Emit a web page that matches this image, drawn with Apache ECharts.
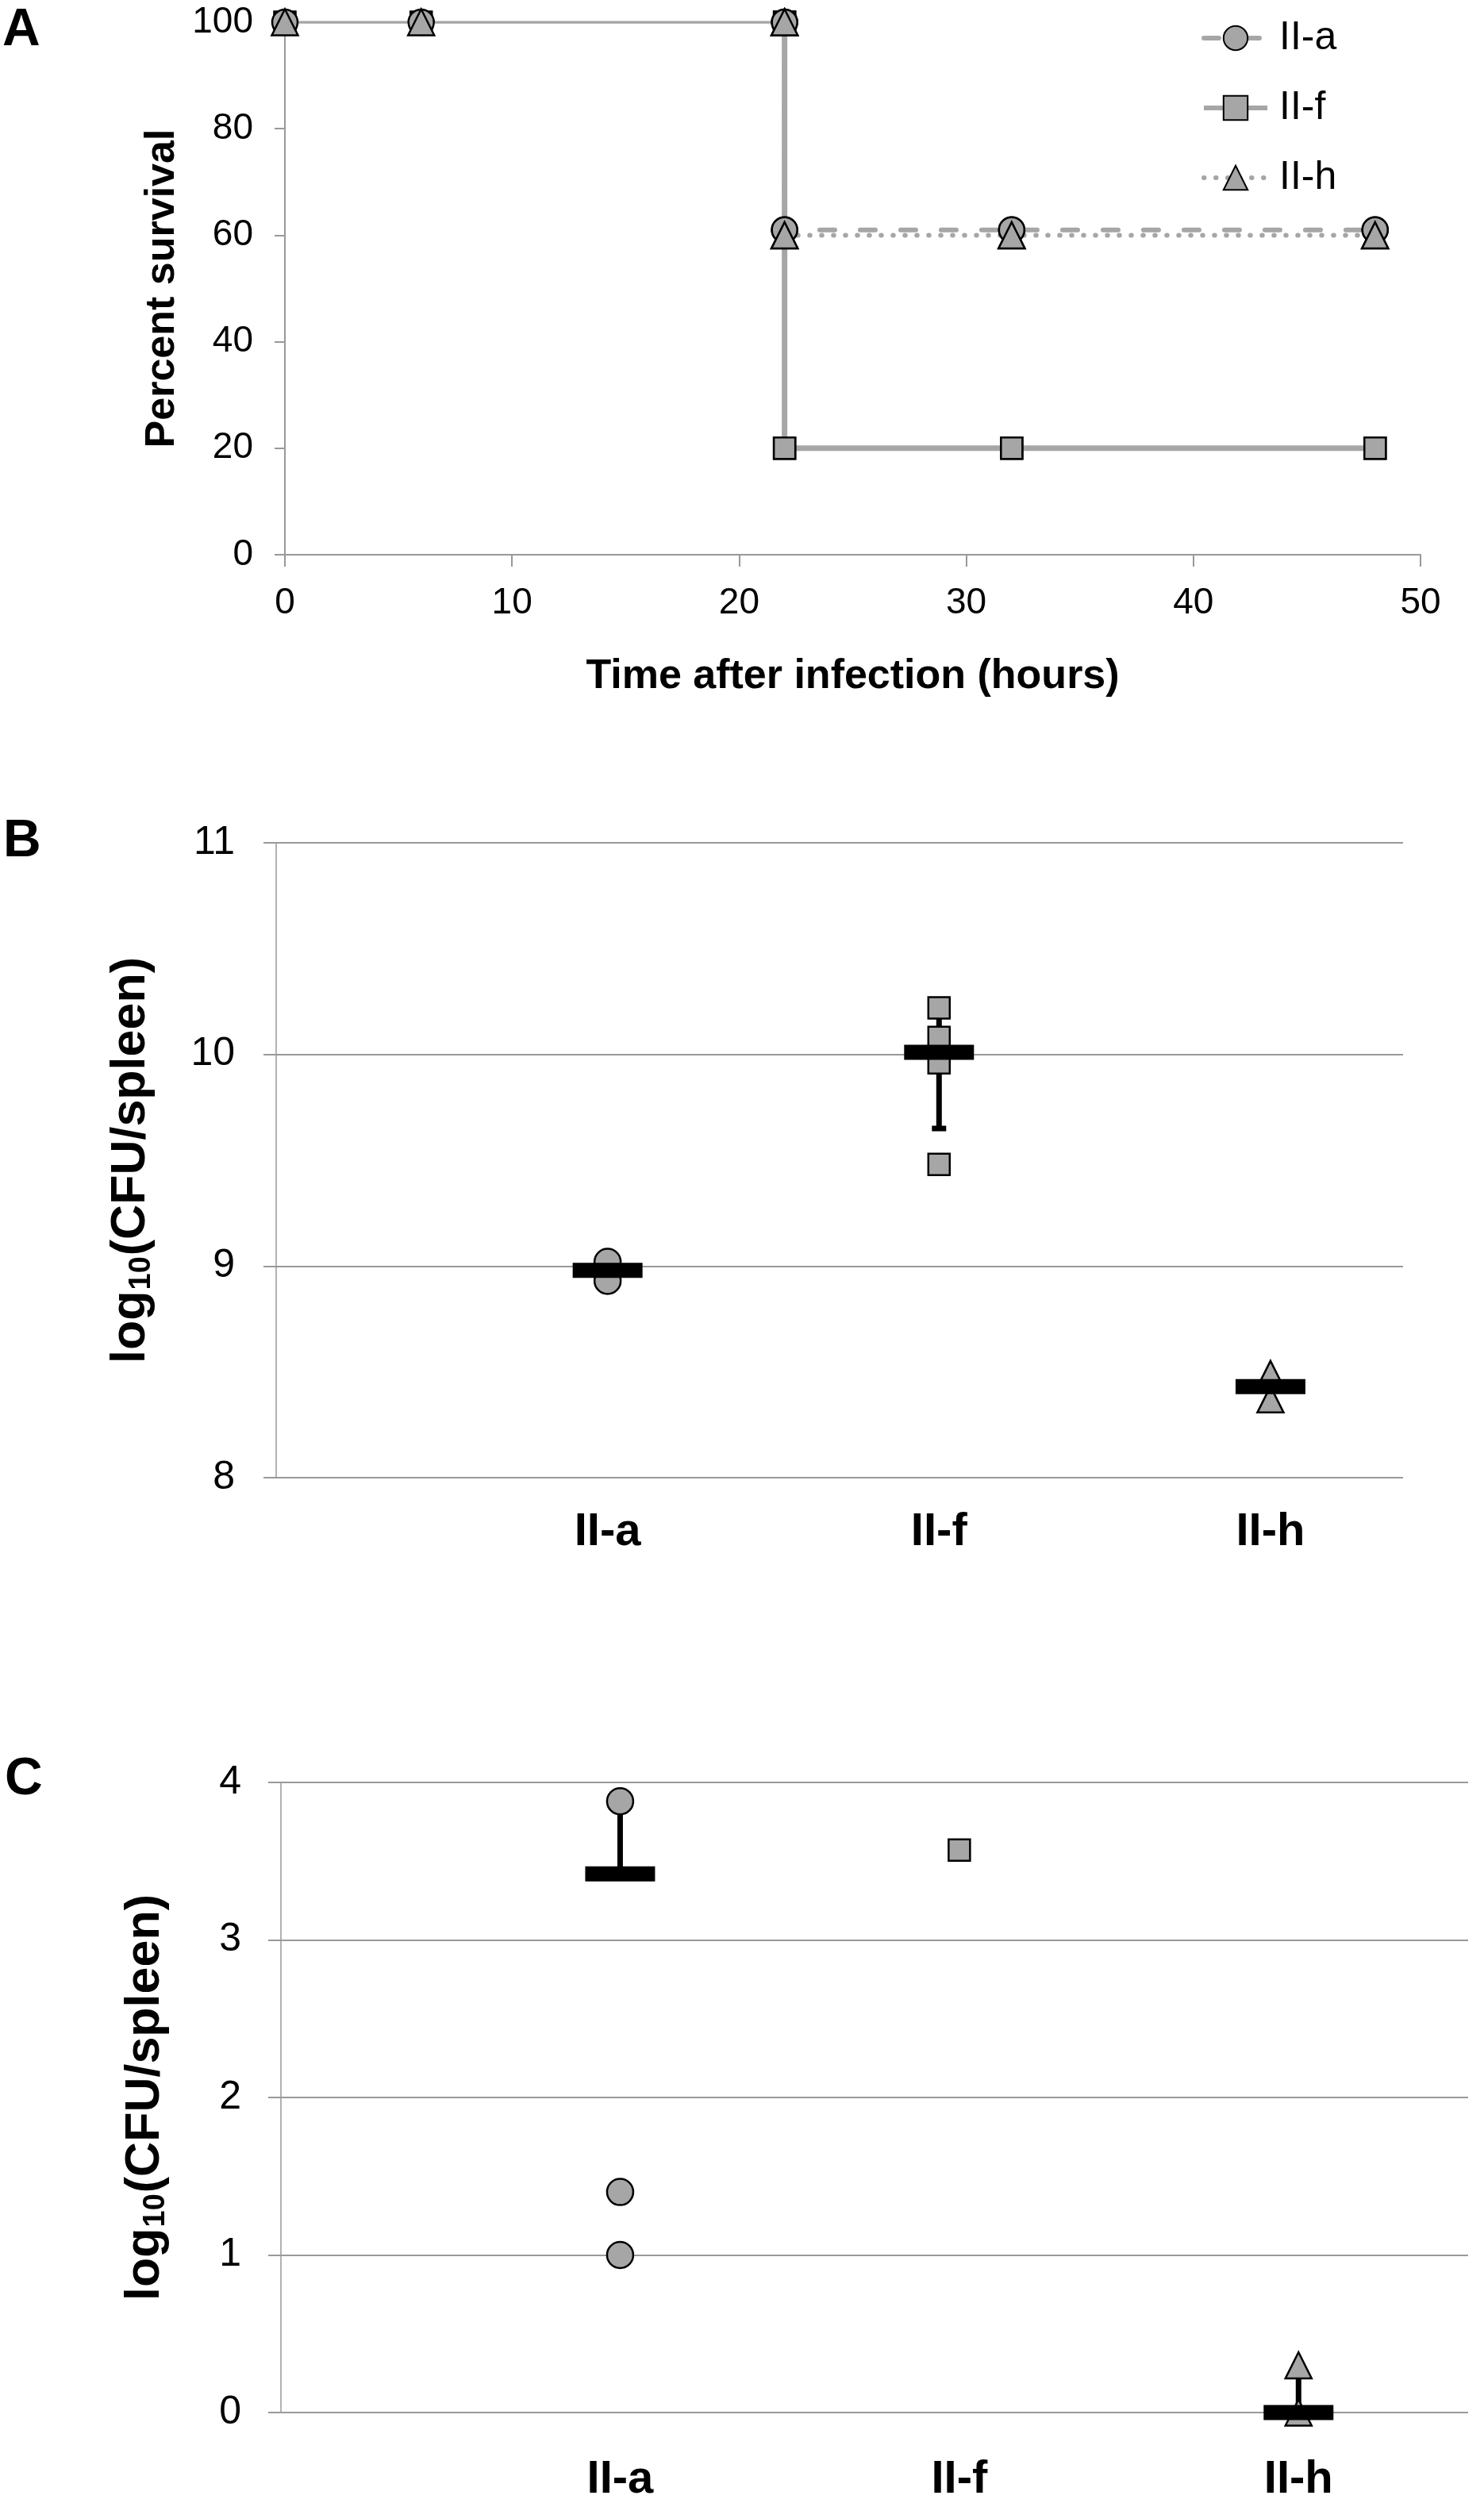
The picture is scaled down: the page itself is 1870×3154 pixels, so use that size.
<!DOCTYPE html>
<html>
<head>
<meta charset="utf-8" />
<title>Survival and spleen CFU</title>
<script src="https://cdn.jsdelivr.net/npm/echarts@6/dist/echarts.min.js"></script>
<style>
  body { margin: 0; background: #fff; }
  #chart { width: 1870px; height: 3154px; }
</style>
</head>
<body>
<div id="chart"></div>
<script>
// panel A : percent survival over time
var hours   = [0, 6, 22, 22, 32, 48];
var survIIa = [100, 100, 100, 61, 61, 61];
var survIIf = [100, 100, 100, 20, 20, 20];
var survIIh = [100, 100, 100, 60, 60, 60];
var xTicksA = [0, 10, 20, 30, 40, 50];

// panels B and C : log10(CFU/spleen), one point per mouse
var strains = ['II-a', 'II-f', 'II-h'];
var cfuB_a = [9.02, 8.93];
var cfuB_f = [10.22, 10.08, 9.96, 9.48];
var cfuB_h = [8.49, 8.37];
var meanB  = [8.98, 10.01, 8.43];
var errLoB = [null, 9.65, null];
var errHiB = [null, 10.2, null];

var cfuC_a = [3.88, 1.40, 1.00];
var cfuC_f = [3.57];
var cfuC_h = [0.30, 0.00];
var meanC  = [3.42, null, 0.00];
var errLoC = [3.42, null, 0.00];
var errHiC = [3.86, null, 0.23];

var FONT = 'Liberation Sans, Arial, sans-serif';
var GRAY = '#a6a6a6';
var AXIS = '#999999';
var markStyle = { color: GRAY, borderColor: '#000', borderWidth: 2.5, opacity: 1 };

function pts(xs, ys) {
  return xs.map(function (x, i) { return [x, ys[i]]; });
}
function strainPts(k, ys) {
  return ys.map(function (y) { return [k + 1, y]; });
}
function meanPts(ms) {
  var out = [];
  ms.forEach(function (m, i) { if (m != null) out.push([i + 1, m]); });
  return out;
}
function errPts(lo, hi) {
  var out = [];
  lo.forEach(function (l, i) { if (l != null) out.push([i + 1, l, hi[i]]); });
  return out;
}

// line of a survival curve from the last 100% point on
function kmLine(name, ys, sym, size, lineStyle) {
  return {
    type: 'line', name: name, xAxisIndex: 0, yAxisIndex: 0,
    data: pts(hours.slice(2), ys.slice(2)),
    symbol: sym, symbolSize: size, showSymbol: true,
    itemStyle: markStyle, lineStyle: lineStyle, z: 2, animation: false
  };
}
function kmMarks(ys, sym, size, z) {
  return {
    type: 'scatter', xAxisIndex: 0, yAxisIndex: 0,
    data: pts(hours, ys), symbol: sym, symbolSize: size,
    itemStyle: markStyle, z: z, animation: false
  };
}
function dots(idx, k, ys, sym, size) {
  return {
    type: 'scatter', xAxisIndex: idx, yAxisIndex: idx,
    data: strainPts(k, ys), symbol: sym, symbolSize: size,
    itemStyle: markStyle, z: 4, animation: false
  };
}
function means(idx, ms) {
  return {
    type: 'scatter', xAxisIndex: idx, yAxisIndex: idx,
    data: meanPts(ms), symbol: 'rect', symbolSize: [88, 19],
    itemStyle: { color: '#000', opacity: 1 }, z: 6, animation: false
  };
}
function errBars(idx, lo, hi) {
  return {
    type: 'custom', xAxisIndex: idx, yAxisIndex: idx,
    data: errPts(lo, hi), z: 3, animation: false,
    renderItem: function (params, api) {
      var a = api.coord([api.value(0), api.value(1)]);
      var b = api.coord([api.value(0), api.value(2)]);
      return {
        type: 'group',
        children: [
          { type: 'line', shape: { x1: a[0], y1: a[1], x2: b[0], y2: b[1] },
            style: { stroke: '#000', lineWidth: 7 } },
          { type: 'rect', shape: { x: a[0] - 9, y: a[1] - 3.5, width: 18, height: 7 },
            style: { fill: '#000' } }
        ]
      };
    }
  };
}

function strainAxis(idx, max, margin) {
  return {
    gridIndex: idx, type: 'value', min: 0, max: max, interval: 1,
    axisLine: { show: false }, axisTick: { show: false }, splitLine: { show: false },
    axisLabel: {
      margin: margin, fontFamily: FONT, fontSize: 58, fontWeight: 'bold', color: '#000',
      formatter: function (v) { return strains[v - 1] || ''; }
    }
  };
}
function cfuAxis(idx, min, max, gap, margin) {
  return {
    gridIndex: idx, type: 'value', min: min, max: max, interval: 1,
    axisLine: { show: true, lineStyle: { color: AXIS, width: 1.5 } },
    axisTick: { show: true, inside: false, length: 16, lineStyle: { color: AXIS, width: 2 } },
    splitLine: { show: true, lineStyle: { color: AXIS, width: 2 } },
    axisLabel: { margin: margin, fontFamily: FONT, fontSize: 50, color: '#000' },
    name: '{b|log}{s|10}{b|(CFU/spleen)}',
    nameLocation: 'middle', nameRotate: 90, nameGap: gap,
    nameTextStyle: {
      fontFamily: FONT, color: '#000',
      rich: {
        b: { fontFamily: FONT, fontSize: 61, fontWeight: 'bold', color: '#000', lineHeight: 66 },
        s: { fontFamily: FONT, fontSize: 38, fontWeight: 'bold', color: '#000',
             lineHeight: 66, verticalAlign: 'bottom', padding: [0, 1, 0, 1] }
      }
    }
  };
}

var chart = echarts.init(document.getElementById('chart'), null, { renderer: 'canvas' });

var option = {
  backgroundColor: '#fff',
  animation: false,
  textStyle: { fontFamily: FONT },
  grid: [
    { left: 359, top: 28, width: 1431, height: 671 },
    { left: 348, top: 1062, width: 1420, height: 800 },
    { left: 354, top: 2246, width: 1496, height: 795 }
  ],
  legend: {
    orient: 'vertical', left: 1509, top: 18,
    itemWidth: 80, itemHeight: 38, itemGap: 38,
    data: ['II-a', 'II-f', 'II-h'],
    lineStyle: { width: 6 },
    textStyle: { fontFamily: FONT, fontSize: 50, color: '#000', padding: [0, 0, 0, 10] },
    selectedMode: false
  },
  xAxis: [
    {
      gridIndex: 0, type: 'value', min: xTicksA[0], max: xTicksA[xTicksA.length - 1], interval: 10,
      axisLine: { show: true, onZero: false, lineStyle: { color: AXIS, width: 2 } },
      axisTick: { show: true, length: 15, lineStyle: { color: AXIS, width: 2 } },
      splitLine: { show: false },
      axisLabel: { margin: 38, fontFamily: FONT, fontSize: 46, color: '#000' },
      name: 'Time after infection (hours)', nameLocation: 'middle', nameGap: 128,
      nameTextStyle: { fontFamily: FONT, fontSize: 52, fontWeight: 'bold', color: '#000' }
    },
    strainAxis(1, 3.4, 40),
    strainAxis(2, 3.5, 56)
  ],
  yAxis: [
    {
      gridIndex: 0, type: 'value', min: 0, max: 100, interval: 20,
      axisLine: { show: true, onZero: false, lineStyle: { color: AXIS, width: 2 } },
      axisTick: { show: true, length: 13, lineStyle: { color: AXIS, width: 2 } },
      splitLine: { show: false },
      axisLabel: { margin: 40, fontFamily: FONT, fontSize: 46, color: '#000' },
      name: 'Percent survival', nameLocation: 'middle', nameRotate: 90, nameGap: 128,
      nameTextStyle: { fontFamily: FONT, fontSize: 52, fontWeight: 'bold', color: '#000' }
    },
    cfuAxis(1, 8, 11, 150, 52),
    cfuAxis(2, 0, 4, 138, 50)
  ],
  graphic: [
    { type: 'text', left: 3, top: 6, style: { text: 'A', font: 'bold 66px ' + FONT, fill: '#000' } },
    { type: 'text', left: 4, top: 1028, style: { text: 'B', font: 'bold 66px ' + FONT, fill: '#000' } },
    { type: 'text', left: 6, top: 2210, style: { text: 'C', font: 'bold 66px ' + FONT, fill: '#000' } }
  ],
  series: [
    kmLine('II-a', survIIa, 'circle', 32,
      { color: GRAY, width: 6, type: [19, 32], cap: 'round' }),
    kmLine('II-f', survIIf, 'rect', 27, { color: GRAY, width: 7 }),
    kmLine('II-h', survIIh, 'triangle', 33,
      { color: GRAY, width: 6, type: [0.5, 14.5], cap: 'round' }),
    {
      // the 100% stretch before the first deaths sits on the plot edge
      type: 'line', xAxisIndex: 0, yAxisIndex: 0,
      data: pts(hours.slice(0, 3), survIIf.slice(0, 3)),
      showSymbol: false, symbol: 'none',
      lineStyle: { color: GRAY, width: 3.5 }, z: 2, animation: false
    },
    kmMarks(survIIf, 'rect', 27, 5),
    kmMarks(survIIa, 'circle', 32, 6),
    kmMarks(survIIh, 'triangle', 33, 7),

    errBars(1, errLoB, errHiB),
    dots(1, 0, cfuB_a, 'circle', 33),
    dots(1, 1, cfuB_f, 'rect', 27),
    dots(1, 2, cfuB_h, 'triangle', 33),
    means(1, meanB),

    errBars(2, errLoC, errHiC),
    dots(2, 0, cfuC_a, 'circle', 33),
    dots(2, 1, cfuC_f, 'rect', 27),
    dots(2, 2, cfuC_h, 'triangle', 33),
    means(2, meanC)
  ]
};

chart.setOption(option);
</script>
</body>
</html>
